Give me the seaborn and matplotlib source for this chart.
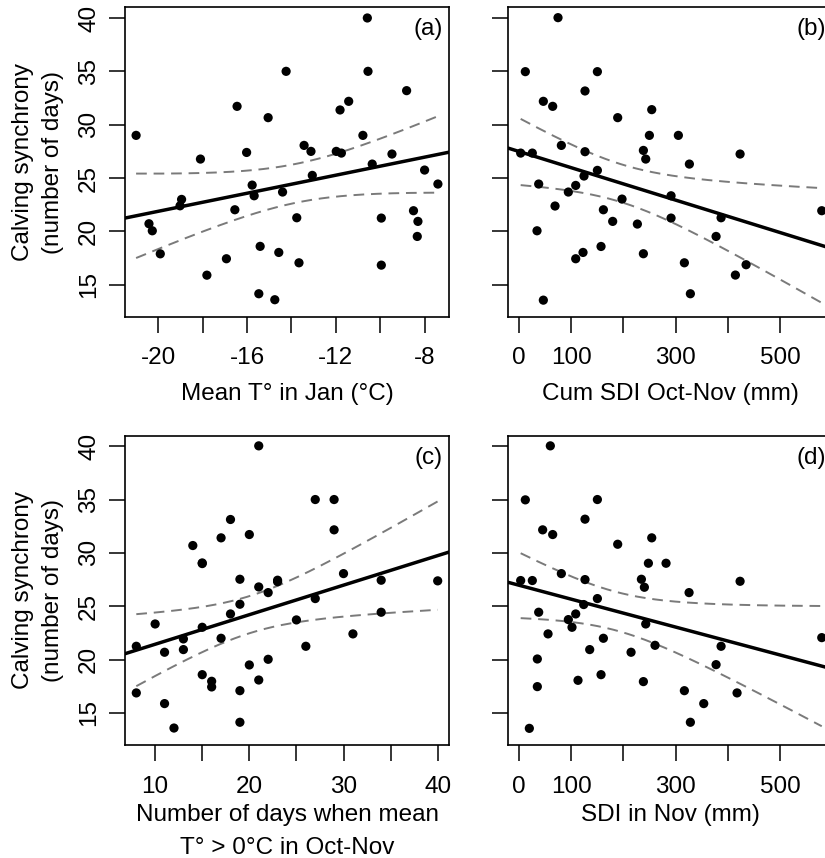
import numpy as np
import pandas as pd
import matplotlib
matplotlib.use("Agg")
import matplotlib.pyplot as plt
import seaborn as sns

# ---------------- data ----------------
# (a) Mean temperature in January (deg C)
jan_temp = [-21.0, -20.42, -20.27, -19.91, -18.95, -19.02, -18.1, -17.81, -16.93, -16.55,
            -16.45, -16.02, -15.77, -15.68, -15.41, -15.47, -15.05, -14.75, -14.57, -14.4,
            -14.24, -13.76, -13.66, -13.43, -13.12, -13.06, -11.98, -11.75, -11.81, -11.42,
            -10.78, -10.58, -10.55, -10.36, -9.95, -9.95, -9.47, -8.81, -8.5, -8.3,
            -8.33, -8.0, -7.4]
sync_a = [29.0, 20.72, 20.06, 17.9, 23.0, 22.4, 26.78, 15.9, 17.44, 22.03,
          31.72, 27.4, 24.34, 23.34, 18.6, 14.16, 30.66, 13.6, 18.03, 23.69,
          35.0, 21.28, 17.06, 28.06, 27.5, 25.25, 27.5, 27.34, 31.38, 32.19,
          29.0, 40.0, 35.0, 26.31, 21.25, 16.84, 27.25, 33.19, 21.94, 20.94,
          19.53, 25.75, 24.44]

# (b) Cumulative SDI Oct-Nov (mm)
cum_sdi = [3.2, 25.5, 12.1, 74.7, 37.7, 34.5, 46.6, 46.6, 64.5, 69.0,
           81.1, 94.5, 108.6, 108.6, 122.6, 124.5, 126.4, 126.4, 150.1, 150.1,
           157.1, 161.6, 179.4, 189.0, 197.3, 226.7, 238.2, 242.7, 238.2, 249.7,
           254.2, 291.2, 291.2, 305.2, 316.7, 326.3, 328.2, 377.4, 387.0, 414.4,
           423.4, 434.9, 579.8]
sync_b = [27.34, 27.34, 34.97, 40.03, 24.44, 20.06, 32.19, 13.56, 31.72, 22.38,
          28.06, 23.69, 24.31, 17.44, 18.03, 25.19, 33.16, 27.47, 34.97, 25.72,
          18.59, 22.03, 20.94, 30.66, 23.03, 20.69, 27.59, 26.78, 17.91, 29.0,
          31.41, 23.34, 21.25, 29.0, 17.06, 26.31, 14.16, 19.53, 21.28, 15.91,
          27.25, 16.88, 21.94]

# (c) Number of days when mean T > 0 C in Oct-Nov
warm_days = [8, 8, 10, 11, 11, 12, 13, 13, 14, 15,
             15, 15, 15, 16, 16, 17, 17, 18, 18, 19,
             19, 19, 19, 20, 20, 21, 21, 21, 22, 22,
             23, 23, 25, 26, 27, 27, 29, 29, 30, 31,
             34, 34, 40]
sync_c = [16.88, 21.25, 23.34, 20.69, 15.88, 13.59, 21.94, 20.94, 30.69, 29.06,
          29.0, 23.03, 18.59, 17.97, 17.44, 31.41, 22.0, 33.13, 24.28, 27.53,
          25.19, 17.09, 14.13, 31.72, 19.5, 40.03, 26.81, 18.09, 26.28, 20.03,
          27.44, 27.3, 23.72, 21.25, 35.0, 25.72, 35.0, 32.16, 28.06, 22.41,
          27.44, 24.44, 27.38]

# (d) SDI in November (mm)
nov_sdi = [3.2, 25.5, 12.1, 60.0, 19.8, 35.1, 35.1, 37.7, 45.3, 55.6,
           64.5, 81.1, 94.5, 101.5, 108.6, 113.0, 126.4, 126.4, 123.9, 135.4,
           150.1, 150.1, 157.1, 161.6, 189.0, 214.6, 234.4, 240.1, 238.2, 242.7,
           247.8, 254.2, 260.5, 281.6, 316.7, 325.7, 328.2, 353.8, 377.4, 387.0,
           417.6, 423.4, 579.8]
sync_d = [27.41, 27.41, 34.97, 40.03, 13.56, 20.06, 17.47, 24.44, 32.16, 22.41,
          31.72, 28.06, 23.75, 23.03, 24.28, 18.06, 33.16, 27.5, 25.16, 20.94,
          35.0, 25.72, 18.59, 22.0, 30.81, 20.69, 27.53, 26.78, 17.94, 23.34,
          29.03, 31.41, 21.34, 29.03, 17.09, 26.28, 14.13, 15.88, 19.53, 21.25,
          16.88, 27.34, 22.06]

# fitted regression lines (intercept, slope)
fit_intercepts = [30.34, 27.49, 18.67, 26.97]
fit_slopes = [0.4227, -0.01519, 0.2769, -0.01307]

panel_tags = ["(a)", "(b)", "(c)", "(d)"]
x_labels = ["Mean T\u00b0 in Jan (\u00b0C)", "Cum SDI Oct-Nov (mm)",
            "Number of days when mean\nT\u00b0 > 0\u00b0C in Oct-Nov", "SDI in Nov (mm)"]
y_label = "Calving synchrony\n(number of days)"
y_ticks = [15, 20, 25, 30, 35, 40]
x_ticks = [[-20, -18, -16, -14, -12, -10, -8],
           [0, 100, 200, 300, 400, 500],
           [10, 15, 20, 25, 30, 35, 40],
           [0, 100, 200, 300, 400, 500]]
x_ticklabels = [["-20", "", "-16", "", "-12", "", "-8"],
                ["0", "100", "", "300", "", "500"],
                ["10", "", "20", "", "30", "", "40"],
                ["0", "100", "", "300", "", "500"]]

# ---------------- style ----------------
sns.set_theme(style="ticks")
plt.rcParams["font.family"] = ["Liberation Sans", "DejaVu Sans"]
plt.rcParams["text.color"] = "black"
plt.rcParams["axes.labelcolor"] = "black"
plt.rcParams["xtick.color"] = "black"
plt.rcParams["ytick.color"] = "black"
FS = 17.5

W, H = 825, 858
fig = plt.figure(figsize=(W / 100, H / 100), dpi=100)

ax_w, ax_h = 324, 309.5
lefts = [125, 508.3, 125, 508.3]
tops = [7.3, 7.3, 435.5, 435.5]
xlims = [(-21.5, -6.9), (-20.5, 600.0), (6.8, 41.2), (-20.5, 600.0)]
ylim = (12, 41)

xs = [jan_temp, cum_sdi, warm_days, nov_sdi]
ys = [sync_a, sync_b, sync_c, sync_d]

T975 = 2.0195  # Student t quantile, df = 41

for i in range(4):
    l, t = lefts[i], tops[i]
    ax = fig.add_axes([l / W, (H - t - ax_h) / H, ax_w / W, ax_h / H])
    df = pd.DataFrame({"x": xs[i], "y": ys[i]})

    sns.scatterplot(data=df, x="x", y="y", ax=ax, color="black", s=44,
                    edgecolor="none", linewidth=0, zorder=3)

    a, b = fit_intercepts[i], fit_slopes[i]
    x = df["x"].to_numpy(float)
    y = df["y"].to_numpy(float)
    n = len(x)
    xm = x.mean()
    sxx = ((x - xm) ** 2).sum()
    s = np.sqrt(((y - (a + b * x)) ** 2).sum() / (n - 2))

    ax.set_xlim(*xlims[i])
    ax.set_ylim(*ylim)

    # regression line across the whole plotting region
    xl = np.array(ax.get_xlim())
    sns.lineplot(x=xl, y=a + b * xl, ax=ax, color="black", linewidth=2.5,
                 estimator=None, sort=False, zorder=4)

    # 95% confidence band over the range of the data
    xg = np.linspace(x.min(), x.max(), 200)
    se = s * np.sqrt(1.0 / n + (xg - xm) ** 2 / sxx)
    fit = a + b * xg
    for band in (fit + T975 * se, fit - T975 * se):
        sns.lineplot(x=xg, y=band, ax=ax, color="#7a7a7a", linewidth=1.4,
                     estimator=None, sort=False, zorder=2)
    for line in ax.get_lines()[1:]:
        line.set_dashes((5.5, 3.5))

    ax.set_xticks(x_ticks[i])
    ax.set_xticklabels(x_ticklabels[i], fontsize=FS)
    ax.set_yticks(y_ticks)
    if i in (0, 2):
        ax.set_yticklabels([str(v) for v in y_ticks], fontsize=FS, rotation=90,
                           va="center")
        ax.set_ylabel(y_label, fontsize=FS, linespacing=1.45)
        ax.yaxis.set_label_coords(-0.188, 0.5)
    else:
        ax.set_yticklabels([])
        ax.set_ylabel("")

    ax.set_xlabel(x_labels[i], fontsize=FS, linespacing=1.6)
    if i in (0, 1):
        ax.xaxis.set_label_coords(0.5, -0.214)
    else:
        ax.xaxis.set_label_coords(0.5, -0.192)

    ax.tick_params(axis="both", direction="out", length=11.5, width=1.1,
                   color="black", labelcolor="black")
    ax.tick_params(axis="x", pad=10.5)
    ax.tick_params(axis="y", pad=6.5)
    for sp in ax.spines.values():
        sp.set_visible(True)
        sp.set_color("black")
        sp.set_linewidth(1.2)

    ax.text(0.981, 0.964, panel_tags[i], transform=ax.transAxes, ha="right",
            va="top", fontsize=FS, color="black")

fig.savefig("out.png", dpi=100)
